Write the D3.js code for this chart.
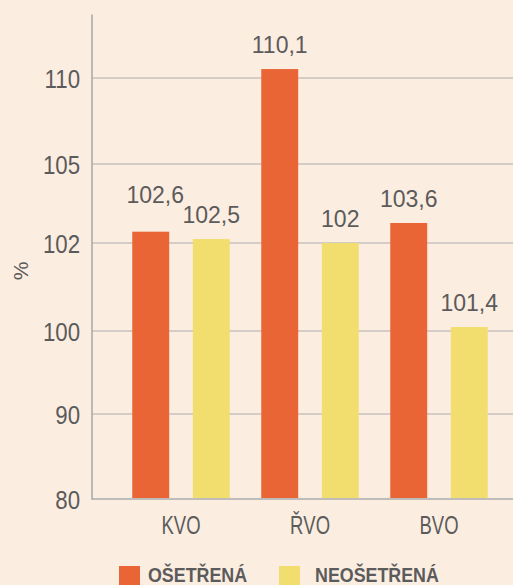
<!DOCTYPE html>
<html><head><meta charset="utf-8">
<script src="https://cdn.jsdelivr.net/npm/d3@7"></script>
<style>
html,body{margin:0;padding:0;background:#fcede1;}
svg{display:block;font-family:"Liberation Sans",Arial,sans-serif;}
</style></head>
<body>
<svg id="c" width="513" height="585"></svg>
<script>
// ---- data ----
const categories = ["KVO", "ŘVO", "BVO"];
const seriesNames = ["OŠETŘENÁ", "NEOŠETŘENÁ"];
// printed value labels
const treatedLabels = [102.6, 110.1, 103.6];
const untreatedLabels = [102.5, 102, 101.4];
// bar heights as read off the (non-linear) axis of the picture
const treatedDrawn = [102.43, 110.52, 102.76];
const untreatedDrawn = [102.15, 102.0, 100.09];
const yTicks = [80, 90, 100, 102, 105, 110];
const colors = ["#e96535", "#f2de6e"];

const svg = d3.select("#c");
const textCol = "#5b5b5b";
const gridCol = "#ababab";

// non-linear y axis: evenly spaced ticks
const y = d3.scaleLinear().domain(yTicks).range([499, 414, 331, 243, 164, 78]);
const x0 = d3.scaleBand().domain(categories).range([116.5, 503.5]).padding(0);
const x1 = d3.scaleBand().domain(seriesNames).range([15.75, 113.25]).paddingInner(0.39).paddingOuter(0);

const axisX = 92;
// gridlines
svg.append("g").selectAll("line").data(yTicks).join("line")
  .attr("x1", axisX).attr("x2", 513)
  .attr("y1", d => y(d)).attr("y2", d => y(d))
  .attr("stroke", gridCol).attr("stroke-width", d => d === 80 ? 1.6 : 1.2);

// y axis
const yAxis = d3.axisLeft(y).tickValues(yTicks).tickSize(0).tickPadding(0).tickFormat(d3.format("d"));
const gy = svg.append("g").attr("transform", `translate(${axisX},0)`).call(yAxis);
gy.select(".domain").remove();
gy.selectAll("text")
  .attr("x", -12 / 0.89).attr("dy", "0.36em")
  .attr("transform", "scale(0.89,1)")
  .attr("fill", textCol).attr("font-size", 25).attr("font-family", "Liberation Sans, Arial, sans-serif");
svg.append("line").attr("x1", axisX).attr("x2", axisX).attr("y1", 14.5).attr("y2", 499.7)
  .attr("stroke", gridCol).attr("stroke-width", 1.6);

// % label
svg.append("text").attr("transform", "translate(28,271) rotate(-90)")
  .attr("text-anchor", "middle").attr("font-size", 21).attr("fill", textCol).text("%");

// bars
const rows = categories.map((c, i) => ({
  cat: c,
  vals: [
    {s: seriesNames[0], v: treatedDrawn[i], lab: treatedLabels[i], col: colors[0]},
    {s: seriesNames[1], v: untreatedDrawn[i], lab: untreatedLabels[i], col: colors[1]}
  ]
}));
const fmt = v => String(v).replace(".", ",");

const groups = svg.append("g").selectAll("g").data(rows).join("g")
  .attr("transform", d => `translate(${x0(d.cat)},0)`);
groups.selectAll("rect").data(d => d.vals).join("rect")
  .attr("x", d => x1(d.s)).attr("width", x1.bandwidth())
  .attr("y", d => y(d.v)).attr("height", d => y(80) - 1 - y(d.v))
  .attr("fill", d => d.col);

// value labels with simple collision avoidance
const labelFs = 23;
rows.forEach(r => {
  const items = r.vals.map(d => {
    const cx = x0(r.cat) + x1(d.s) + x1.bandwidth() / 2;
    return {d, cx, by: y(d.v) - 16, w: fmt(d.lab).length * labelFs * 0.5};
  });
  const [a, b] = items;
  const hOverlap = (a.cx + a.w / 2 + 10) > (b.cx - b.w / 2);
  if (hOverlap && Math.abs(a.by - b.by) < 20) {
    if (a.by <= b.by) { a.by = b.by - 20; a.cx += 4.5; } else { b.by = a.by - 20; }
  }
  items.forEach(it => {
    svg.append("text").attr("x", it.cx).attr("y", it.by)
      .attr("text-anchor", "middle").attr("font-size", labelFs).attr("fill", textCol)
      .text(fmt(it.d.lab));
  });
});

// category labels
svg.append("g").selectAll("text").data(categories).join("text")
  .attr("transform", d => `translate(${x0(d) + x0.bandwidth() / 2},534) scale(0.74,1)`)
  .attr("text-anchor", "middle").attr("font-size", 25).attr("fill", textCol)
  .text(d => d);

// legend
const legX = [119, 279];
const leg = svg.append("g").selectAll("g").data(seriesNames).join("g")
  .attr("transform", (d, i) => `translate(${legX[i]},566)`);
leg.append("rect").attr("width", 21).attr("height", 21).attr("fill", (d, i) => colors[i]);
leg.append("text")
  .attr("transform", (d, i) => `translate(${i === 0 ? 29 : 36},16) scale(0.85,1)`)
  .attr("font-size", 21).attr("font-weight", "bold").attr("fill", textCol)
  .text(d => d);
</script>
</body></html>
